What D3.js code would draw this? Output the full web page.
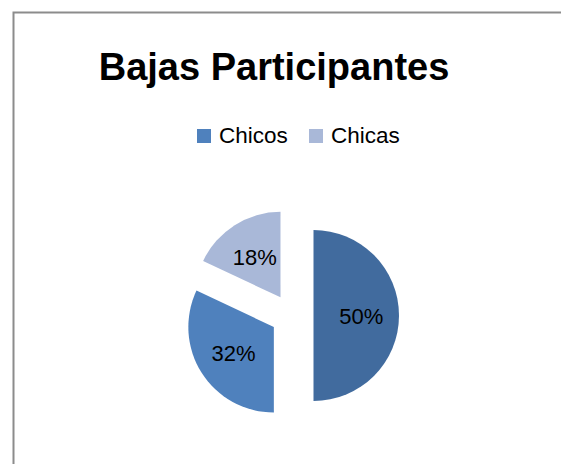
<!DOCTYPE html>
<html>
<head>
<meta charset="utf-8">
<script src="https://cdn.jsdelivr.net/npm/d3@7"></script>
<style>
  html, body { margin: 0; padding: 0; background: #fff; overflow: hidden; }
  svg { display: block; }
  text { font-family: "Liberation Sans", Arial, sans-serif; }
</style>
</head>
<body>
<svg id="chart" width="561" height="464"></svg>
<script>
// data
const categories = ["", "Chicos", "Chicas"];
const values = [50, 32, 18];
const colors = ["#416b9e", "#4f81bd", "#a9b8d8"];
const title = "Bajas Participantes";

const svg = d3.select("#chart");

// chart frame (right and bottom run off the picture)
svg.append("path")
  .attr("d", "M13.5,464V12.5H561")
  .attr("fill", "none")
  .attr("stroke", "#8c8c8c")
  .attr("stroke-width", 2);

// title
svg.append("text")
  .text(title)
  .attr("x", 274).attr("y", 80)
  .attr("text-anchor", "middle")
  .attr("font-weight", "bold")
  .attr("font-size", 38)
  .attr("fill", "#000");

// legend, only named categories
let legendData = categories.map(function (c, i) { return { name: c, color: colors[i] }; })
  .filter(function (d) { return d.name !== ""; });
let lx = [197, 309];
let legend = svg.selectAll(".leg").data(legendData).enter().append("g")
  .attr("class", "leg")
  .attr("transform", function (d, i) { return "translate(" + lx[i] + ",129)"; });
legend.append("rect")
  .attr("width", 14).attr("height", 14)
  .attr("fill", function (d) { return d.color; });
legend.append("text")
  .text(function (d) { return d.name; })
  .attr("x", 22).attr("y", 14)
  .attr("font-size", 22.5)
  .attr("fill", "#000");

// pie
const cx = 292, cy = 315.5, r = 85.5, explode = 21.5;
let pie = d3.pie().sort(null).value(function (d) { return d; });
let arcs = pie(values);
let arc = d3.arc().innerRadius(0).outerRadius(r);
let labelArc = d3.arc().innerRadius(r * 0.56).outerRadius(r * 0.56);
let total = d3.sum(values);

function shift(d) {
  let a = (d.startAngle + d.endAngle) / 2;
  return [Math.sin(a) * explode, -Math.cos(a) * explode];
}

let g = svg.append("g").attr("transform", "translate(" + cx + "," + cy + ")");
let slices = g.selectAll(".slice").data(arcs).enter().append("g")
  .attr("class", "slice")
  .attr("transform", function (d) { return "translate(" + shift(d).join(",") + ")"; });

slices.append("path")
  .attr("d", arc)
  .attr("fill", function (d, i) { return colors[i]; });

slices.append("text")
  .text(function (d) { return Math.round(d.value / total * 100) + "%"; })
  .attr("x", function (d) { return labelArc.centroid(d)[0]; })
  .attr("y", function (d) { return labelArc.centroid(d)[1] + 8; })
  .attr("text-anchor", "middle")
  .attr("font-size", 22)
  .attr("fill", "#000");
</script>
</body>
</html>
